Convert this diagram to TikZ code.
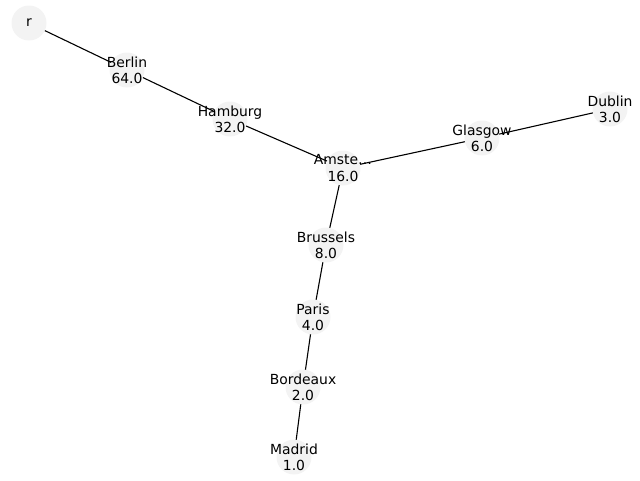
\documentclass[tikz,border=0pt]{standalone}
\usepackage{fontspec}
\setmainfont{DejaVu Sans}
\usetikzlibrary{backgrounds}
\definecolor{nodefill}{HTML}{F3F3F3}
\begin{document}
\begin{tikzpicture}[x=1pt,y=-1pt,
  city/.style={circle,fill=nodefill,minimum size=35pt,inner sep=0pt,
    label={[align=center,font=\fontsize{13.9}{16.3}\selectfont,inner sep=0pt]center:#1}},
  link/.style={draw=black,line width=1.1pt}]
  \useasboundingbox (0,0) rectangle (640,480);
  % cities placed at their layout positions
  \node[city={r}] (r) at (29,23) {};
  \node[city={Berlin\\64.0}] (berlin) at (127,70) {};
  \node[city={Hamburg\\32.0}] (hamburg) at (230,119) {};
  \node[city={Amste…\\16.0}] (amsterdam) at (343,168) {};
  \node[city={Glasgow\\6.0}] (glasgow) at (482,138) {};
  \node[city={Dublin\\3.0}] (dublin) at (610,109) {};
  \node[city={Brussels\\8.0}] (brussels) at (326,245) {};
  \node[city={Paris\\4.0}] (paris) at (313,317) {};
  \node[city={Bordeaux\\2.0}] (bordeaux) at (303,387) {};
  \node[city={Madrid\\1.0}] (madrid) at (294,457) {};
  % edges run centre to centre beneath the discs
  \begin{pgfonlayer}{background}
    \draw[link] (r.center) -- (berlin.center);
    \draw[link] (berlin.center) -- (hamburg.center);
    \draw[link] (hamburg.center) -- (amsterdam.center);
    \draw[link] (amsterdam.center) -- (glasgow.center);
    \draw[link] (glasgow.center) -- (dublin.center);
    \draw[link] (amsterdam.center) -- (brussels.center);
    \draw[link] (brussels.center) -- (paris.center);
    \draw[link] (paris.center) -- (bordeaux.center);
    \draw[link] (bordeaux.center) -- (madrid.center);
  \end{pgfonlayer}
\end{tikzpicture}
\end{document}
